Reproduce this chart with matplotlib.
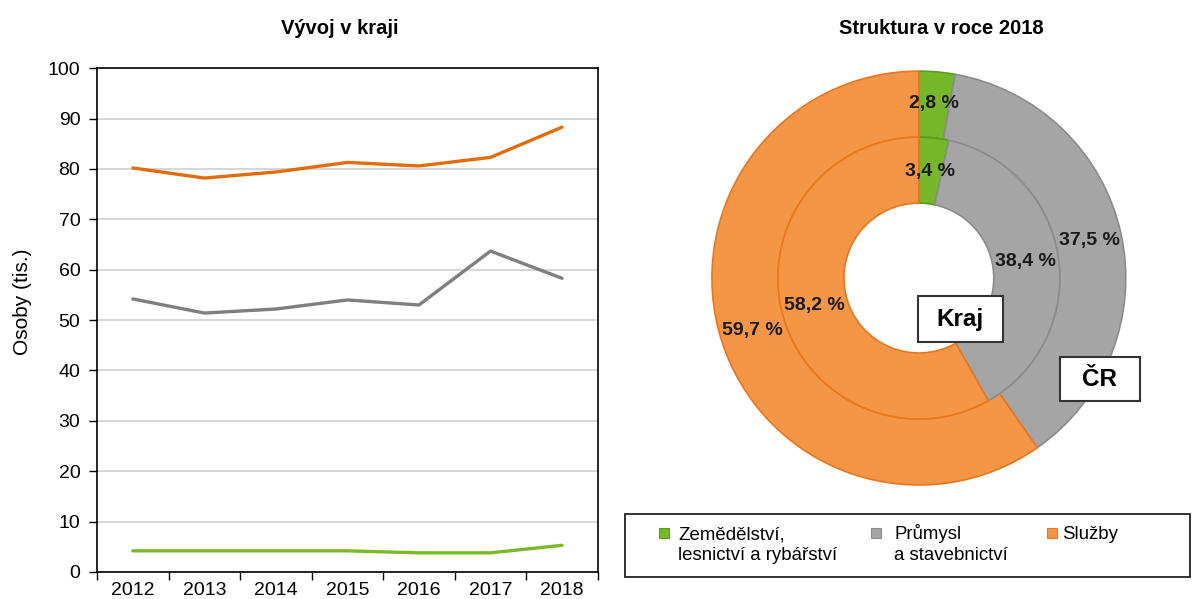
import numpy as np
import matplotlib.pyplot as plt
from matplotlib.patches import Rectangle

plt.rcParams['font.family'] = ['Liberation Sans', 'DejaVu Sans']

# data
years = ['2012', '2013', '2014', '2015', '2016', '2017', '2018']
agri = [4.2, 4.2, 4.2, 4.2, 3.8, 3.8, 5.3]
industry = [54.2, 51.4, 52.2, 54.0, 53.0, 63.7, 58.3]
services = [80.2, 78.2, 79.4, 81.3, 80.6, 82.3, 88.3]

sectors = ['Zemědělství,\nlesnictví a rybářství', 'Průmysl\na stavebnictví', 'Služby']
kraj_share = [3.4, 38.4, 58.2]
cr_share = [2.8, 37.5, 59.7]

line_colors = ['#7AB929', '#7F7F7F', '#E46C0A']
pie_colors = ['#77B82A', '#A5A5A5', '#F59646']
pie_edges = ['#5E9A1E', '#8C8C8C', '#E8771F']

W, H = 1198, 599
fig = plt.figure(figsize=(W / 100, H / 100), dpi=100)

def fx(px):
    return px / W

def fy(py):
    return 1 - py / H

# ---- line chart ----
ax = fig.add_axes([0.081, 0.0451, 0.418, 0.841])
x = range(len(years))
for vals, c in zip([agri, industry, services], line_colors):
    ax.plot(x, vals, color=c, lw=2.4, solid_capstyle='round')
ax.set_xlim(-0.5, len(years) - 0.5)
ax.set_ylim(0, 100)
ax.set_yticks(range(0, 101, 10))
ax.set_xticks(list(x))
ax.set_xticklabels(years)
ax.set_xticks([i - 0.5 for i in range(len(years) + 1)], minor=True)
ax.tick_params(axis='x', which='major', length=0, labelsize=14, pad=7)
ax.tick_params(axis='x', which='minor', length=6, direction='out', width=1)
ax.tick_params(axis='y', length=6, direction='out', width=1, labelsize=14, pad=6)
ax.yaxis.grid(True, color='#D0D0D0', lw=1.2)
ax.set_axisbelow(True)
for s in ax.spines.values():
    s.set_color('black')
    s.set_linewidth(1.2)
ax.set_ylabel('Osoby (tis.)', fontsize=15)
ax.yaxis.set_label_coords(-0.13, 0.536)
fig.text(fx(340), fy(28), 'Vývoj v kraji', ha='center', va='center',
         fontsize=14.5, fontweight='bold')

# ---- donut ----
pax = fig.add_axes([0.577, 0.1558, 0.380, 0.760])
w_out, _ = pax.pie(cr_share, radius=1.0, startangle=90, counterclock=False,
                   colors=pie_colors, wedgeprops=dict(width=0.319, lw=1.2))
w_in, _ = pax.pie(kraj_share, radius=0.681, startangle=90, counterclock=False,
                  colors=pie_colors, wedgeprops=dict(width=0.319, lw=1.2))
for ws in (w_out, w_in):
    for w, ec in zip(ws, pie_edges):
        w.set_edgecolor(ec)
pax.set_xlim(-1.1, 1.1)
pax.set_ylim(-1.1, 1.1)
pax.set_aspect('equal')
pax.axis('off')

def label_ring(wedges, vals, r):
    for w, v in zip(wedges, vals):
        ang = np.deg2rad((w.theta1 + w.theta2) / 2)
        pax.text(r * np.cos(ang), r * np.sin(ang), f'{v:.1f} %'.replace('.', ','),
                 ha='center', va='center', fontsize=14, fontweight='bold', color='#1a1a1a')

label_ring(w_out, cr_share, 0.845)
label_ring(w_in, kraj_share, 0.52)

pax.add_patch(Rectangle((-0.005, -0.309), 0.411, 0.222, facecolor='white',
                        edgecolor='#333333', lw=1.5, zorder=5))
pax.text(0.2, -0.198, 'Kraj', ha='center', va='center', fontsize=17.5,
         fontweight='bold', zorder=6)
pax.add_patch(Rectangle((0.681, -0.594), 0.387, 0.212, facecolor='white',
                        edgecolor='#333333', lw=1.5, zorder=5))
pax.text(0.875, -0.488, 'ČR', ha='center', va='center', fontsize=17.5,
         fontweight='bold', zorder=6)
fig.text(fx(941), fy(28), 'Struktura v roce 2018', ha='center', va='center',
         fontsize=14.5, fontweight='bold')

# ---- legend (drawn by hand so the swatches sit on the first text line) ----
fig.patches.append(Rectangle((fx(625), fy(577)), fx(1190) - fx(625), fy(514) - fy(577),
                             transform=fig.transFigure, facecolor='white',
                             edgecolor='#222222', lw=1.3))
sw_x = [659, 871, 1047]
tx_x = [678, 894, 1062]
for label, c, e, sx, tx in zip(sectors, pie_colors, pie_edges, sw_x, tx_x):
    fig.patches.append(Rectangle((fx(sx), fy(538)), fx(10), 10 / H,
                                 transform=fig.transFigure, facecolor=c,
                                 edgecolor=e, lw=0.8))
    for k, line in enumerate(label.split('\n')):
        fig.text(fx(tx), fy(539 + 21 * k), line, ha='left', va='baseline',
                 fontsize=13.4)

fig.savefig('out.png', dpi=100)
